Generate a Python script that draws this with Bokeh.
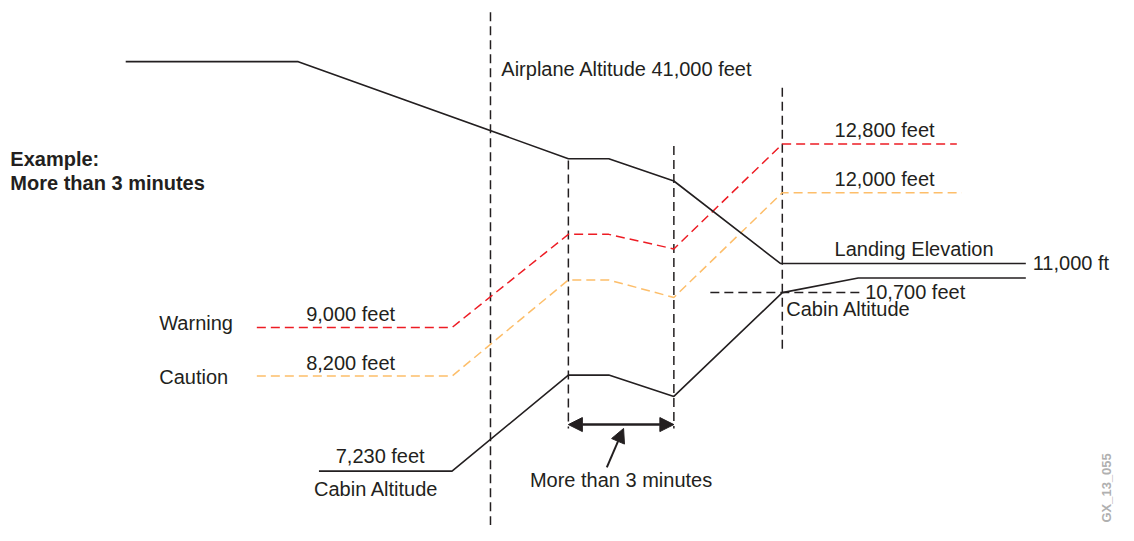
import math
from bokeh.plotting import figure
from bokeh.models import Range1d, Arrow, NormalHead, ColumnDataSource
from bokeh.core.properties import value
from bokeh.embed import file_html
from bokeh.resources import INLINE

# ---- data (diagram coordinates; y grows downward) ----
airplane_x = [127, 302, 576, 617, 683, 791, 1040]
airplane_y = [63, 63, 163, 163, 186, 271, 271]

cabin_x = [323, 458, 576, 617, 683, 793, 870, 1040]
cabin_y = [485, 485, 386, 386, 408, 301, 286, 286]

warning_x = [260, 458, 576, 617, 683, 793, 970]
warning_y = [337, 337, 241, 241, 256, 148, 148]

caution_x = [260, 458, 576, 617, 683, 793, 975]
caution_y = [387, 387, 288, 288, 306, 198, 198]

vline_x = [497, 576, 683, 793]
vline_top = [12, 165, 150, 90]
vline_bottom = [541, 441, 441, 362]

ref_x = [720, 876]
ref_y = [301, 301]

labels = ["Airplane Altitude 41,000 feet", "12,800 feet", "12,000 feet",
          "Landing Elevation", "11,000 ft", "10,700 feet", "Cabin Altitude",
          "Warning", "9,000 feet", "Caution", "8,200 feet", "7,230 feet",
          "Cabin Altitude", "More than 3 minutes"]
label_x = [508, 846, 846, 846, 1047, 877, 797, 161, 310, 161, 310, 340, 318, 537]
label_y = [71, 133, 184, 256, 270, 300, 318, 332, 323, 388, 374, 469, 503, 494]

bold_labels = ["Example:", "More than 3 minutes"]
bold_x = [10, 10]
bold_y = [163, 188]

INK = "#231f20"
RED = "#ed1c24"
ORANGE = "#fdbe6a"
FONT = "Liberation Sans"

p = figure(width=1118, height=525, output_backend="svg", toolbar_location=None,
           x_range=Range1d(0, 1134), y_range=Range1d(541, 0),
           min_border=0)
p.xaxis.visible = False
p.yaxis.visible = False
p.grid.visible = False
p.outline_line_color = None
p.background_fill_color = "white"
p.border_fill_color = "white"

# vertical dashed lines
p.segment(x0=vline_x, y0=vline_top, x1=vline_x, y1=vline_bottom,
          line_color=INK, line_width=1.5, line_dash="9 5")
p.line(ref_x, ref_y, line_color=INK, line_width=1.5, line_dash="9 5")

p.line(warning_x, warning_y, line_color=RED, line_width=1.5, line_dash="9 5")
p.line(caution_x, caution_y, line_color=ORANGE, line_width=1.5, line_dash="9 5")
p.line(airplane_x, airplane_y, line_color=INK, line_width=1.6)
p.line(cabin_x, cabin_y, line_color=INK, line_width=1.6)

# double arrow between the two middle dashed lines
p.add_layout(Arrow(x_start=vline_x[1], y_start=437, x_end=vline_x[2], y_end=437,
                   line_color=INK, line_width=2.5,
                   start=NormalHead(size=14, fill_color=INK, line_color=INK),
                   end=NormalHead(size=14, fill_color=INK, line_color=INK)))
p.add_layout(Arrow(x_start=615, y_start=481, x_end=632, y_end=441,
                   line_color=INK, line_width=2,
                   end=NormalHead(size=14, fill_color=INK, line_color=INK)))

src = ColumnDataSource(dict(x=label_x, y=label_y, t=labels))
p.text(x="x", y="y", text="t", source=src, text_font=value(FONT),
       text_font_size="20px", text_color=INK, text_baseline="middle",
       text_align="left")

p.text(x=bold_x, y=bold_y, text=bold_labels, text_font=value(FONT),
       text_font_size="20px", text_font_style="bold", text_color=INK,
       text_baseline="middle", text_align="left")

p.text(x=[1122], y=[538], text=["GX_13_055"], angle=[math.pi / 2],
       text_font=value(FONT), text_font_size="13px", text_font_style="bold",
       text_color="#b0b0b0", text_baseline="middle", text_align="left")

open("out.html", "w").write(file_html(p, INLINE))
